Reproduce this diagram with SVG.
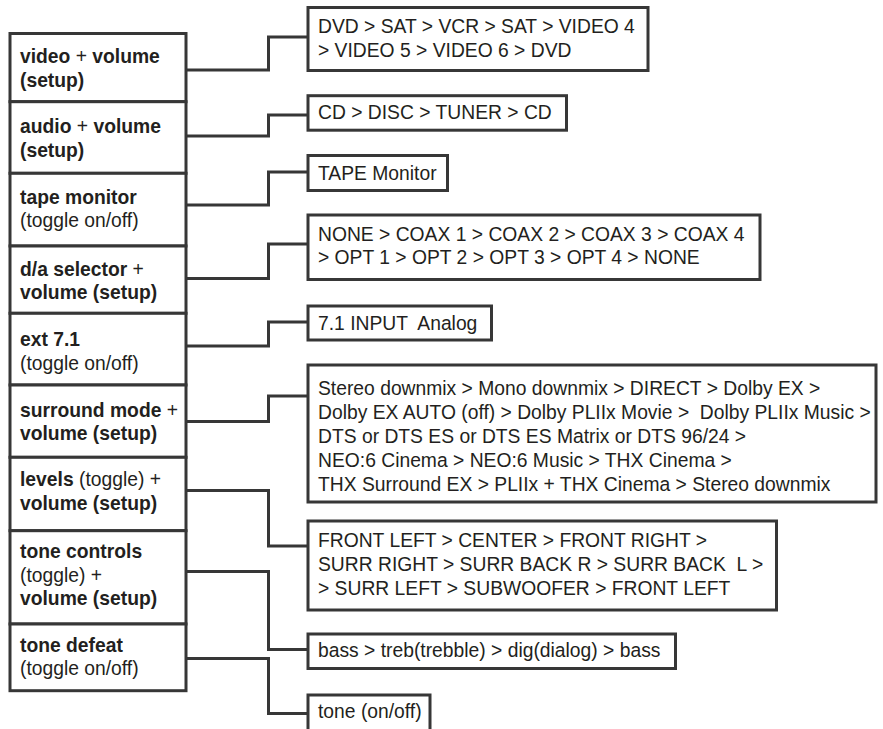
<svg xmlns="http://www.w3.org/2000/svg" width="883" height="729" viewBox="0 0 883 729">
<style>
  .box { fill: #ffffff; stroke: #373737; stroke-width: 3; }
  .conn { fill: none; stroke: #373737; stroke-width: 3; }
  text { font-family: "Liberation Sans", Arial, sans-serif; font-size: 19.3px; fill: #231f20; }
  .b { font-weight: bold; }
  .n { font-weight: normal; }
</style>
<rect x="0" y="0" width="883" height="729" fill="#ffffff"/>
<g id="connectors">
  <path class="conn" d="M186 70 H268.5 V37 H308"/>
  <path class="conn" d="M186 136 H268.5 V115 H308"/>
  <path class="conn" d="M186 205 H268.5 V172 H308"/>
  <path class="conn" d="M186 278.5 H268.5 V244 H308"/>
  <path class="conn" d="M186 346 H268.5 V322 H308"/>
  <path class="conn" d="M186 421.5 H268.5 V396 H308"/>
  <path class="conn" d="M186 490.5 H268.5 V546 H308"/>
  <path class="conn" d="M186 571.5 H268.5 V649.5 H308"/>
  <path class="conn" d="M186 658.5 H268.5 V713.5 H308"/>
</g>
<g id="video-volume">
  <rect class="box" x="10" y="33.5" width="176" height="68.2"/>
  <text x="20" y="63"><tspan class="b">video</tspan> + <tspan class="b">volume</tspan></text>
  <text x="20" y="87" class="b">(setup)</text>
</g>
<g id="audio-volume">
  <rect class="box" x="10" y="101.7" width="176" height="71.6"/>
  <text x="20" y="133"><tspan class="b">audio</tspan> + <tspan class="b">volume</tspan></text>
  <text x="20" y="157" class="b">(setup)</text>
</g>
<g id="tape-monitor">
  <rect class="box" x="10" y="173.3" width="176" height="72.7"/>
  <text x="20" y="204" class="b">tape monitor</text>
  <text x="20" y="227">(toggle on/off)</text>
</g>
<g id="da-selector">
  <rect class="box" x="10" y="246" width="176" height="67.3"/>
  <text x="20" y="276"><tspan class="b">d/a selector</tspan> +</text>
  <text x="20" y="299" class="b">volume (setup)</text>
</g>
<g id="ext71">
  <rect class="box" x="10" y="313.3" width="176" height="71.7"/>
  <text x="20" y="346" class="b">ext 7.1</text>
  <text x="20" y="370">(toggle on/off)</text>
</g>
<g id="surround-mode">
  <rect class="box" x="10" y="385" width="176" height="72.3"/>
  <text x="20" y="417"><tspan class="b">surround mode</tspan> +</text>
  <text x="20" y="440" class="b">volume (setup)</text>
</g>
<g id="levels">
  <rect class="box" x="10" y="457.3" width="176" height="73.4"/>
  <text x="20" y="486"><tspan class="b">levels</tspan> (toggle) +</text>
  <text x="20" y="510" class="b">volume (setup)</text>
</g>
<g id="tone-controls">
  <rect class="box" x="10" y="530.7" width="176" height="93.3"/>
  <text x="20" y="558" class="b">tone controls</text>
  <text x="20" y="581.5">(toggle) +</text>
  <text x="20" y="605" class="b">volume (setup)</text>
</g>
<g id="tone-defeat">
  <rect class="box" x="10" y="624" width="176" height="66.7"/>
  <text x="20" y="652" class="b">tone defeat</text>
  <text x="20" y="675">(toggle on/off)</text>
</g>
<g id="video-list">
  <rect class="box" x="308" y="7.5" width="340" height="63"/>
  <text x="318" y="33">DVD &gt; SAT &gt; VCR &gt; SAT &gt; VIDEO 4</text>
  <text x="318" y="57">&gt; VIDEO 5 &gt; VIDEO 6 &gt; DVD</text>
</g>
<g id="audio-list">
  <rect class="box" x="308" y="95.7" width="258.5" height="34.5"/>
  <text x="318" y="119">CD &gt; DISC &gt; TUNER &gt; CD</text>
</g>
<g id="tape-list">
  <rect class="box" x="308" y="155.5" width="139.5" height="35"/>
  <text x="318" y="180">TAPE Monitor</text>
</g>
<g id="da-list">
  <rect class="box" x="308" y="215" width="452" height="64.5"/>
  <text x="318" y="241">NONE &gt; COAX 1 &gt; COAX 2 &gt; COAX 3 &gt; COAX 4</text>
  <text x="318" y="264">&gt; OPT 1 &gt; OPT 2 &gt; OPT 3 &gt; OPT 4 &gt; NONE</text>
</g>
<g id="ext71-list">
  <rect class="box" x="308" y="306" width="183.5" height="34"/>
  <text x="318" y="330" xml:space="preserve">7.1 INPUT  Analog</text>
</g>
<g id="surround-list">
  <rect class="box" x="308" y="365" width="568" height="137"/>
  <text x="318" y="395">Stereo downmix &gt; Mono downmix &gt; DIRECT &gt; Dolby EX &gt;</text>
  <text x="318" y="419" xml:space="preserve">Dolby EX AUTO (off) &gt; Dolby PLIIx Movie &gt;  Dolby PLIIx Music &gt;</text>
  <text x="318" y="443">DTS or DTS ES or DTS ES Matrix or DTS 96/24 &gt;</text>
  <text x="318" y="467">NEO:6 Cinema &gt; NEO:6 Music &gt; THX Cinema &gt;</text>
  <text x="318" y="491">THX Surround EX &gt; PLIIx + THX Cinema &gt; Stereo downmix</text>
</g>
<g id="levels-list">
  <rect class="box" x="308" y="521" width="468.5" height="89"/>
  <text x="318" y="547">FRONT LEFT &gt; CENTER &gt; FRONT RIGHT &gt;</text>
  <text x="318" y="571" xml:space="preserve">SURR RIGHT &gt; SURR BACK R &gt; SURR BACK  L &gt;</text>
  <text x="318" y="595">&gt; SURR LEFT &gt; SUBWOOFER &gt; FRONT LEFT</text>
</g>
<g id="tone-list">
  <rect class="box" x="308" y="634" width="367.5" height="34.5"/>
  <text x="318" y="657">bass &gt; treb(trebble) &gt; dig(dialog) &gt; bass</text>
</g>
<g id="tone-onoff">
  <rect class="box" x="308" y="695" width="122" height="45"/>
  <text x="318" y="718">tone (on/off)</text>
</g>
</svg>
